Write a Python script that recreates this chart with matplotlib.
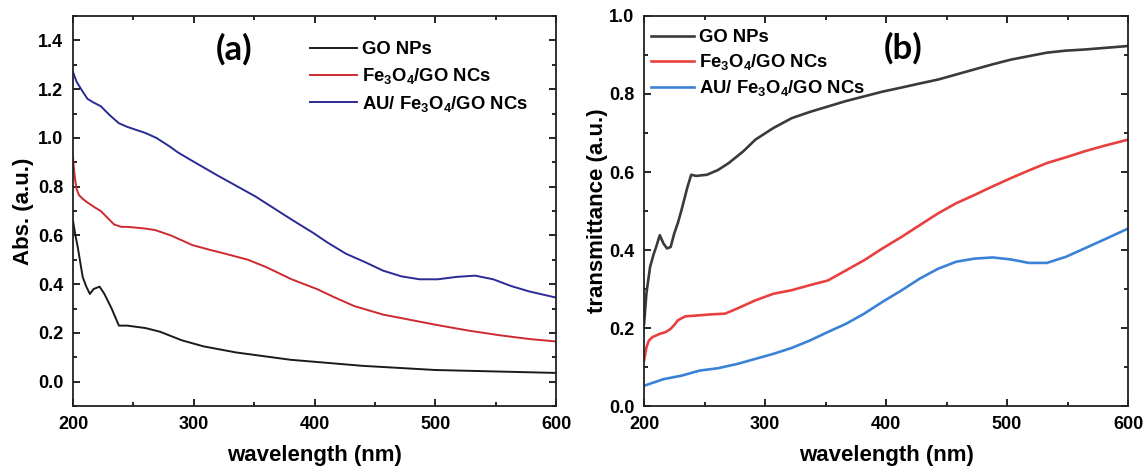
import numpy as np
import matplotlib
matplotlib.use("Agg")
import matplotlib.pyplot as plt
from matplotlib.ticker import MultipleLocator, FormatStrFormatter

plt.rcParams['font.family'] = ['Liberation Sans', 'DejaVu Sans']
plt.rcParams['font.weight'] = 'bold'
plt.rcParams['mathtext.fontset'] = 'custom'
plt.rcParams['mathtext.rm'] = 'Liberation Sans:bold'
plt.rcParams['mathtext.it'] = 'Liberation Sans:bold'
plt.rcParams['mathtext.bf'] = 'Liberation Sans:bold'

# ---- (a) absorbance ----
wl_go_a = [200, 202, 204, 206, 208, 211, 214, 217, 222, 226, 232, 238, 245, 260, 272, 290, 308, 335, 380,
           440, 500, 600]
abs_go = [0.66, 0.60, 0.55, 0.49, 0.43, 0.39, 0.36, 0.38, 0.39, 0.36, 0.30, 0.23, 0.23, 0.22, 0.205, 0.17,
          0.145, 0.12, 0.09, 0.065, 0.048, 0.036]

wl_fe_a = [200, 201, 202, 203, 205, 208, 212, 218, 223, 228, 234, 240, 245, 252, 260, 268, 281, 299, 314,
           326, 345, 360, 381, 402, 417, 433, 457, 481, 502, 527, 554, 578, 600]
abs_fe = [0.92, 0.86, 0.82, 0.79, 0.765, 0.75, 0.735, 0.715, 0.70, 0.675, 0.645, 0.635, 0.635, 0.632, 0.628,
          0.622, 0.60, 0.56, 0.54, 0.525, 0.50, 0.47, 0.42, 0.38, 0.345, 0.31, 0.275, 0.252, 0.232, 0.21,
          0.19, 0.175, 0.165]

wl_au_a = [200, 203, 208, 212, 217, 223, 230, 238, 245, 251, 260, 269, 280, 287, 299, 320, 351, 381, 399,
           411, 426, 442, 457, 472, 487, 502, 518, 533, 548, 563, 578, 600]
abs_au = [1.27, 1.23, 1.19, 1.16, 1.145, 1.13, 1.095, 1.06, 1.045, 1.035, 1.02, 1.0, 0.965, 0.94, 0.905,
          0.845, 0.76, 0.665, 0.61, 0.57, 0.525, 0.49, 0.455, 0.432, 0.42, 0.42, 0.43, 0.435, 0.42, 0.392,
          0.37, 0.345]

# ---- (b) transmittance ----
wl_go_b = [200, 202, 205, 208, 210, 213, 216, 219, 222, 225, 228, 231, 236, 239, 243, 252, 261, 270, 282,
           292, 307, 322, 337, 352, 367, 382, 397, 412, 428, 443, 458, 473, 488, 503, 518, 533, 548, 564, 580,
           600]
tr_go = [0.21, 0.29, 0.357, 0.39, 0.408, 0.438, 0.417, 0.404, 0.408, 0.443, 0.47, 0.503, 0.563, 0.593,
         0.59, 0.593, 0.605, 0.623, 0.653, 0.683, 0.713, 0.738, 0.754, 0.768, 0.782, 0.794, 0.806, 0.816,
         0.827, 0.837, 0.85, 0.863, 0.876, 0.888, 0.897, 0.906, 0.911, 0.914, 0.918, 0.923]

wl_fe_b = [200, 202, 204, 207, 213, 218, 222, 225, 228, 234, 243, 255, 267, 277, 292, 307, 322, 337, 352,
           367, 382, 397, 413, 428, 443, 458, 473, 488, 503, 518, 533, 549, 564, 580, 600]
tr_fe = [0.117, 0.151, 0.168, 0.177, 0.185, 0.19, 0.198, 0.208, 0.22, 0.23, 0.232, 0.235, 0.237, 0.25,
         0.271, 0.288, 0.297, 0.31, 0.322, 0.348, 0.374, 0.404, 0.434, 0.464, 0.494, 0.52, 0.541, 0.563,
         0.584, 0.604, 0.623, 0.638, 0.653, 0.667, 0.683]

wl_au_b = [200, 216, 231, 246, 261, 277, 292, 307, 322, 337, 352, 367, 382, 397, 413, 428, 443, 458, 473,
           488, 503, 518, 533, 549, 564, 579, 600]
tr_au = [0.052, 0.069, 0.078, 0.091, 0.097, 0.108, 0.121, 0.134, 0.149, 0.168, 0.19, 0.211, 0.237, 0.267,
         0.297, 0.327, 0.352, 0.37, 0.378, 0.381, 0.376, 0.367, 0.367, 0.383, 0.404, 0.425, 0.455]

labels = ['GO NPs', r'Fe$_3$O$_4$/GO NCs', r'AU/ Fe$_3$O$_4$/GO NCs']

fig = plt.figure(figsize=(11.46, 4.70), dpi=100)
ax1 = fig.add_axes([0.0637, 0.136, 0.4215, 0.830])
ax2 = fig.add_axes([0.562, 0.136, 0.4223, 0.830])

ax1.plot(wl_go_a, abs_go, color='#1a1a1a', lw=1.4, label=labels[0])
ax1.plot(wl_fe_a, abs_fe, color='#cc2a2e', lw=1.4, label=labels[1])
ax1.plot(wl_au_a, abs_au, color='#2a2a96', lw=1.4, label=labels[2])
ax1.set_ylim(-0.1, 1.5)
ax1.set_ylabel('Abs. (a.u.)', fontsize=16, fontweight='bold', labelpad=3)
ax1.text(333, 1.365, '(a)', fontsize=25, fontweight='bold', family='Lato', ha='center', va='center')
ax1.legend(loc='upper left', bbox_to_anchor=(0.49, 0.935), frameon=False, fontsize=13.3,
           handlelength=2.55, handletextpad=0.27, labelspacing=0.42, borderaxespad=0, borderpad=0)

ax2.plot(wl_go_b, tr_go, color='#3a3a3a', lw=1.9, label=labels[0])
ax2.plot(wl_fe_b, tr_fe, color='#e8403f', lw=1.9, label=labels[1])
ax2.plot(wl_au_b, tr_au, color='#3b82d6', lw=1.9, label=labels[2])
ax2.set_ylim(0.0, 1.0)
ax2.set_ylabel('transmittance (a.u.)', fontsize=16, fontweight='bold', labelpad=1)
ax2.text(414, 0.918, '(b)', fontsize=25, fontweight='bold', family='Lato', ha='center', va='center')
ax2.legend(loc='upper left', bbox_to_anchor=(0.0145, 0.966), frameon=False, fontsize=13.3,
           handlelength=2.3, handletextpad=0.27, labelspacing=0.33, borderaxespad=0, borderpad=0)

for ax in (ax1, ax2):
    ax.set_xlim(200, 600)
    ax.xaxis.set_major_locator(MultipleLocator(100))
    ax.xaxis.set_minor_locator(MultipleLocator(50))
    ax.yaxis.set_major_locator(MultipleLocator(0.2))
    ax.yaxis.set_minor_locator(MultipleLocator(0.1))
    ax.yaxis.set_major_formatter(FormatStrFormatter('%.1f'))
    ax.set_xlabel('wavelength (nm)', fontsize=16, fontweight='bold', labelpad=9)
    ax.tick_params(which='both', direction='in', top=True, right=True, labelsize=13, width=1.2)
    ax.tick_params(which='major', length=5, pad=7)
    ax.tick_params(which='minor', length=3)
    for s in ax.spines.values():
        s.set_linewidth(1.3)
        s.set_color('#222222')
    for t in ax.get_xticklabels() + ax.get_yticklabels():
        t.set_fontweight('bold')

fig.savefig('out.png', dpi=100)
